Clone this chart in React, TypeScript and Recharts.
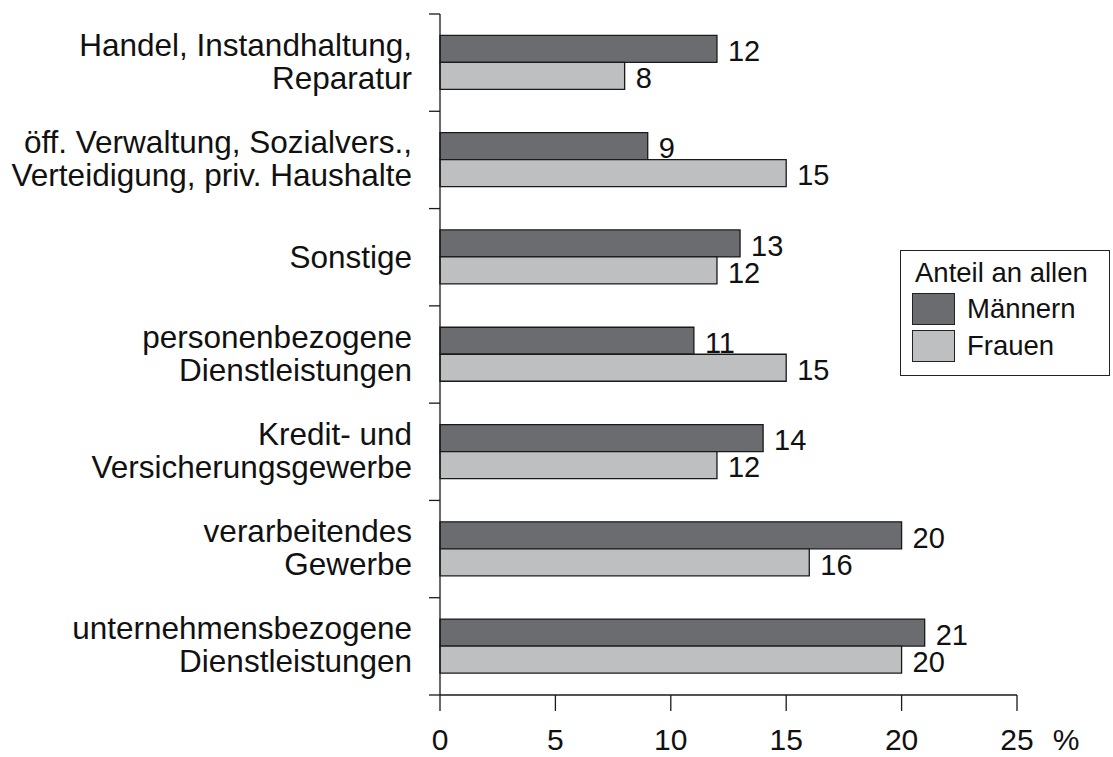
import React from 'react';
import { BarChart, Bar, XAxis, YAxis, LabelList, Legend } from 'recharts';

const categories = [
  'Handel, Instandhaltung,\nReparatur',
  'öff. Verwaltung, Sozialvers.,\nVerteidigung, priv. Haushalte',
  'Sonstige',
  'personenbezogene\nDienstleistungen',
  'Kredit- und\nVersicherungsgewerbe',
  'verarbeitendes\nGewerbe',
  'unternehmensbezogene\nDienstleistungen',
];
const maenner = [12, 9, 13, 11, 14, 20, 21];
const frauen = [8, 15, 12, 15, 12, 16, 20];
const xTicks = [0, 5, 10, 15, 20, 25];

const data = categories.map((name, i) => ({ name, maenner: maenner[i], frauen: frauen[i] }));

const W = 1113;
const H = 757;
const X_AXIS_H = 62;
const MARGIN = { top: 14, right: 96, bottom: 0, left: 0 };
const PLOT_H = H - MARGIN.top - MARGIN.bottom - X_AXIS_H;
const BAND = PLOT_H / categories.length;
const FONT = '"Liberation Sans", Arial, Helvetica, sans-serif';
const DARK = '#6b6c70';
const LIGHT = '#bebfc1';
const STROKE = '#1a1a1a';

const YTick = (props: any) => {
  const { x, y, payload, index } = props;
  const axisX = x + 28;
  const lines: string[] = String(payload.value).split('\n');
  const last = index === categories.length - 1;
  return (
    <g>
      {lines.map((l, i) => (
        <text
          key={i}
          x={x}
          y={lines.length === 1 ? y + 11 : y - 7 + i * 33}
          textAnchor="end"
          fontSize={31.5}
          fontFamily={FONT}
          fill="#111"
        >
          {l}
        </text>
      ))}
      <line x1={axisX - 11} x2={axisX} y1={y - BAND / 2} y2={y - BAND / 2} stroke={STROKE} strokeWidth={1.3} />
      {last && (
        <line x1={axisX - 11} x2={axisX} y1={y + BAND / 2} y2={y + BAND / 2} stroke={STROKE} strokeWidth={1.3} />
      )}
    </g>
  );
};

const XTick = (props: any) => {
  const { x, y, payload, index } = props;
  return (
    <g>
      <text x={x} y={y + 19} textAnchor="middle" fontSize={30} fontFamily={FONT} fill="#111">
        {payload.value}
      </text>
      {index === xTicks.length - 1 && (
        <text x={x + 49} y={y + 19} textAnchor="middle" fontSize={30} fontFamily={FONT} fill="#111">
          %
        </text>
      )}
    </g>
  );
};

const legendItems = [
  { c: DARK, t: 'Männern' },
  { c: LIGHT, t: 'Frauen' },
];

const LegendBox = () => (
  <div
    style={{
      position: 'relative',
      width: 210,
      height: 126,
      border: '1.5px solid #222',
      background: '#fff',
      fontFamily: FONT,
      fontSize: 27.5,
      color: '#111',
      boxSizing: 'border-box',
    }}
  >
    <div style={{ position: 'absolute', left: 14, top: 6, lineHeight: '32px', whiteSpace: 'nowrap' }}>
      Anteil an allen
    </div>
    {legendItems.map((e, i) => (
      <React.Fragment key={e.t}>
        <div
          style={{
            position: 'absolute',
            left: 11,
            top: 42 + i * 37,
            width: 43,
            height: 32,
            background: e.c,
            border: '1.5px solid #222',
            boxSizing: 'border-box',
          }}
        />
        <div style={{ position: 'absolute', left: 66, top: 42 + i * 37, lineHeight: '32px', whiteSpace: 'nowrap' }}>
          {e.t}
        </div>
      </React.Fragment>
    ))}
  </div>
);

export default function App() {
  return (
    <div style={{ position: 'absolute', left: 0, top: 0, width: W, height: H, background: '#fff' }}>
      <BarChart
        width={W}
        height={H}
        data={data}
        layout="vertical"
        margin={MARGIN}
        barCategoryGap="22%"
        barGap={0}
      >
        <XAxis
          type="number"
          domain={[0, 25]}
          ticks={xTicks}
          interval={0}
          height={X_AXIS_H}
          tickSize={16}
          tickMargin={20}
          axisLine={{ stroke: STROKE, strokeWidth: 1.3 }}
          tickLine={{ stroke: STROKE, strokeWidth: 1.3 }}
          tick={<XTick />}
        />
        <YAxis
          type="category"
          dataKey="name"
          width={440}
          interval={0}
          tickSize={0}
          tickMargin={28}
          tickLine={false}
          axisLine={{ stroke: STROKE, strokeWidth: 1.3 }}
          tick={<YTick />}
        />
        <Legend
          layout="horizontal"
          verticalAlign="middle"
          align="center"
          content={<LegendBox />}
          wrapperStyle={{ position: 'absolute', left: 900, top: 250, width: 210, height: 126 }}
        />
        <Bar dataKey="maenner" fill={DARK} stroke={STROKE} strokeWidth={1.3} isAnimationActive={false}>
          <LabelList dataKey="maenner" position="right" offset={11} fontSize={29} fontFamily={FONT} fill="#111" dy={2} />
        </Bar>
        <Bar dataKey="frauen" fill={LIGHT} stroke={STROKE} strokeWidth={1.3} isAnimationActive={false}>
          <LabelList dataKey="frauen" position="right" offset={11} fontSize={29} fontFamily={FONT} fill="#111" dy={2} />
        </Bar>
      </BarChart>
    </div>
  );
}
